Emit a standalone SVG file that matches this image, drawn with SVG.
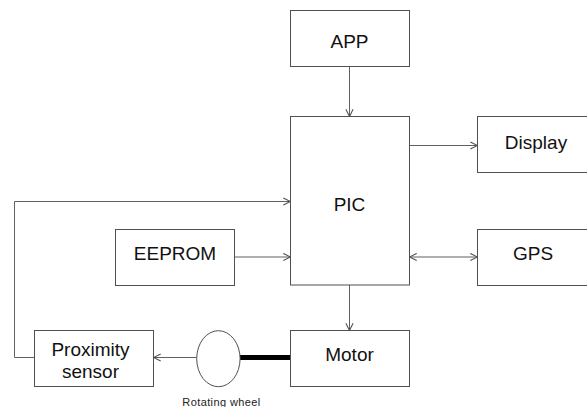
<svg xmlns="http://www.w3.org/2000/svg" width="587" height="407" viewBox="0 0 587 407">
  <style>
    .box { fill: #ffffff; stroke: #505050; stroke-width: 1; }
    .lbl { font-family: "Liberation Sans", Arial, sans-serif; font-size: 19px; fill: #111111; text-anchor: middle; }
    .small { font-family: "Liberation Sans", Arial, sans-serif; font-size: 11px; fill: #222222; text-anchor: middle; letter-spacing: 0.4px; }
    .wire { fill: none; stroke: #606060; stroke-width: 1; }
  </style>
  <defs>
    <marker id="head" viewBox="0 0 10 10" refX="9" refY="5" markerWidth="9" markerHeight="9" markerUnits="userSpaceOnUse" orient="auto-start-reverse">
      <path d="M1,1 L9,5 L1,9" fill="none" stroke="#505050" stroke-width="1.2"/>
    </marker>
  </defs>

  <rect width="587" height="407" fill="#ffffff"/>

  <g id="connectors">
    <!-- APP to PIC -->
    <line class="wire" x1="349.5" y1="66.5" x2="349.5" y2="116.5" marker-end="url(#head)"/>
    <!-- PIC to Display -->
    <line class="wire" x1="409.5" y1="145.5" x2="477.5" y2="145.5" marker-end="url(#head)"/>
    <!-- PIC and GPS, both ways -->
    <line class="wire" x1="409.5" y1="257" x2="477.5" y2="257" marker-start="url(#head)" marker-end="url(#head)"/>
    <!-- EEPROM to PIC -->
    <line class="wire" x1="234.5" y1="257" x2="290.5" y2="257" marker-end="url(#head)"/>
    <!-- proximity feedback loop into PIC -->
    <polyline class="wire" points="34.5,357.5 14.5,357.5 14.5,201.5 290.5,201.5" marker-end="url(#head)"/>
    <!-- PIC to Motor -->
    <line class="wire" x1="349.5" y1="285" x2="349.5" y2="330.5" marker-end="url(#head)"/>
    <!-- wheel to Proximity sensor -->
    <line class="wire" x1="196.7" y1="357.5" x2="153.5" y2="357.5" marker-end="url(#head)"/>
    <!-- motor shaft -->
    <line x1="240" y1="357.5" x2="290.5" y2="357.5" stroke="#000000" stroke-width="5"/>
  </g>

  <g id="app">
    <rect class="box" x="290.5" y="10.5" width="119" height="56"/>
    <text class="lbl" x="349.5" y="47.5">APP</text>
  </g>

  <g id="pic">
    <rect class="box" x="290.5" y="116.5" width="119" height="168.5"/>
    <text class="lbl" x="349.5" y="211">PIC</text>
  </g>

  <g id="display">
    <rect class="box" x="477.5" y="116.5" width="118" height="56"/>
    <text class="lbl" x="536" y="148.5">Display</text>
  </g>

  <g id="gps">
    <rect class="box" x="477.5" y="229.5" width="118" height="56"/>
    <text class="lbl" x="533" y="260">GPS</text>
  </g>

  <g id="eeprom">
    <rect class="box" x="115.5" y="229.5" width="119" height="56"/>
    <text class="lbl" x="175" y="260">EEPROM</text>
  </g>

  <g id="motor">
    <rect class="box" x="290.5" y="330.5" width="119" height="56"/>
    <text class="lbl" x="349.5" y="361">Motor</text>
  </g>

  <g id="proximity">
    <rect class="box" x="34.5" y="330.5" width="119" height="56"/>
    <text class="lbl" x="90.5" y="355.5">Proximity</text>
    <text class="lbl" x="90.5" y="377.5">sensor</text>
  </g>

  <g id="wheel">
    <ellipse cx="218.4" cy="358.7" rx="21.7" ry="28" fill="#ffffff" stroke="#505050" stroke-width="1"/>
    <text class="small" x="221.5" y="405.5">Rotating wheel</text>
  </g>
</svg>
